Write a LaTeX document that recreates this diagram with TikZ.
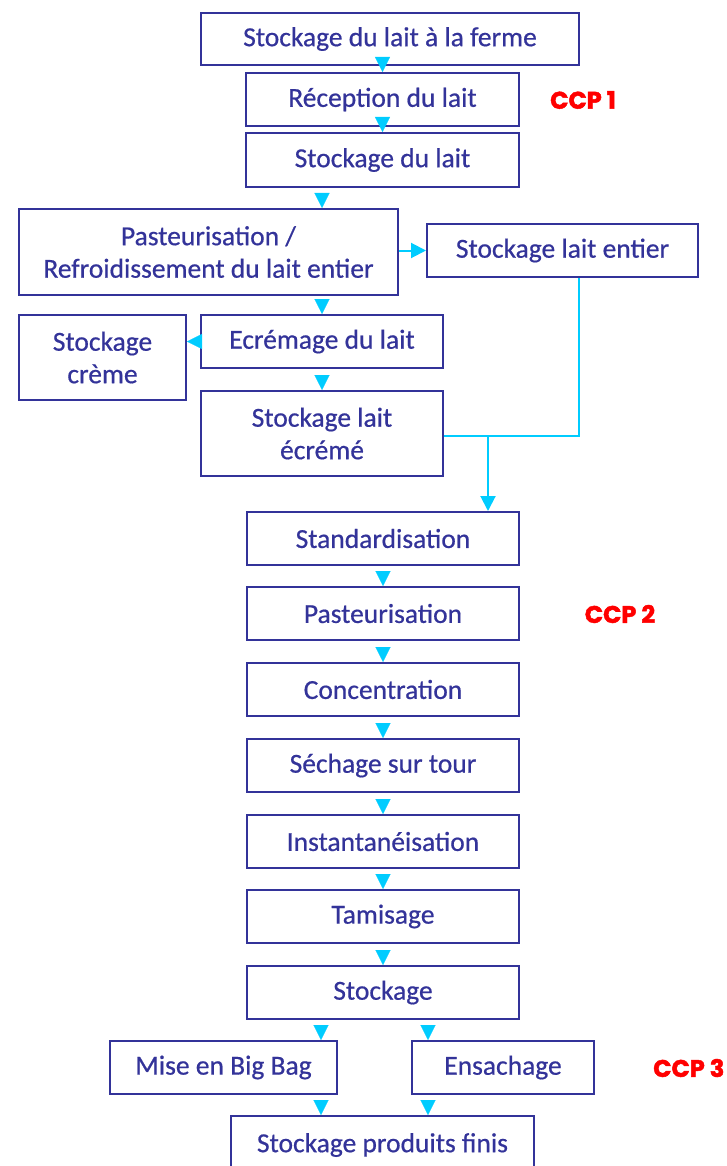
\documentclass[tikz,border=0pt]{standalone}
\usepackage{fontspec}
\setmainfont{Carlito}
\newfontfamily\boxfont{Carlito}[FakeBold=0.6]
\newfontfamily\ccpfont{Poppins}[BoldFeatures={FakeBold=2}]
\usetikzlibrary{arrows.meta}
\definecolor{bluec}{RGB}{51,51,153}
\definecolor{cyanc}{RGB}{0,204,255}
\definecolor{redc}{RGB}{255,0,0}
\begin{document}
\begin{tikzpicture}[x=1pt,y=-1pt,
  box/.style={draw=bluec, line width=2pt, text=bluec, font=\boxfont\fontsize{27.5}{32.5}\selectfont,
    align=center, inner sep=0pt, rectangle},
  arr/.style={draw=cyanc, line width=2pt, -{Triangle[length=15pt,width=15pt]}},
  tiponly/.style={draw=white, line width=0.1pt, -{Triangle[length=15pt,width=15pt,color=cyanc]}},
  link/.style={draw=cyanc, line width=2pt},
  ccp/.style={text=redc, font=\ccpfont\bfseries\fontsize{24}{26}\selectfont, inner sep=0pt}]
\useasboundingbox (0,0) rectangle (727,1166);
\clip (0,0) rectangle (727,1166);
% nodes
\node[box, minimum width=378pt, minimum height=52pt] (n1) at (390,39) {Stockage du lait à la ferme};
\node[box, minimum width=273pt, minimum height=53pt] (n2) at (382.5,99.5) {Réception du lait};
\node[box, minimum width=273pt, minimum height=54pt] (n3) at (382.5,160) {Stockage du lait};
\node[box, minimum width=379pt, minimum height=86pt] (n4) at (208.5,252) {Pasteurisation /\\Refroidissement du lait entier};
\node[box, minimum width=271pt, minimum height=53pt] (n4e) at (562.5,250.5) {Stockage lait entier};
\node[box, minimum width=167pt, minimum height=85pt] (ncr) at (102.5,357.5) {Stockage\\crème};
\node[box, minimum width=242pt, minimum height=53pt] (n5) at (322,341.5) {Ecrémage du lait};
\node[box, minimum width=242pt, minimum height=85pt] (n7) at (322,433.5) {Stockage lait\\écrémé};
\node[box, minimum width=272pt, minimum height=53pt] (n8) at (383,538.5) {Standardisation};
\node[box, minimum width=272pt, minimum height=53pt] (n9) at (383,613.5) {Pasteurisation};
\node[box, minimum width=272pt, minimum height=53pt] (n10) at (383,689.5) {Concentration};
\node[box, minimum width=272pt, minimum height=53pt] (n11) at (383,765.5) {Séchage sur tour};
\node[box, minimum width=272pt, minimum height=53pt] (n12) at (383,841.5) {Instantanéisation};
\node[box, minimum width=272pt, minimum height=53pt] (n13) at (383,916.5) {Tamisage};
\node[box, minimum width=272pt, minimum height=53pt] (n14) at (383,992.5) {Stockage};
\node[box, minimum width=227pt, minimum height=53pt] (n15) at (223.5,1067.5) {Mise en Big Bag};
\node[box, minimum width=182pt, minimum height=53pt] (n16) at (503,1067.5) {Ensachage};
\node[box, minimum width=303pt, minimum height=58pt] (n17) at (382.5,1145) {Stockage produits finis};
% CCP labels
\node[ccp] (c1) at (583,100) {CCP 1};
\node[ccp] (c2) at (620,614) {CCP 2};
\node[ccp, anchor=west] (c3) at (653,1068) {CCP 3};
% helper coordinates
\coordinate (xa) at (321,1030);
\coordinate (xb) at (428,1030);
\coordinate (j1) at (579,435.5);
\coordinate (j2) at (488,435.5);
% connectors
\draw[tiponly] (n1.south -| n2.north) -- (n2.north);
\draw[tiponly] (n2.south) -- (n3.north);
\draw[tiponly] (n3.south -| n5.north) -- (n4.north -| n5.north);
\draw[arr] (n4.east |- n4e.west) -- (n4e.west);
\draw[tiponly] (n4.south -| n5.north) -- (n5.north);
\draw[tiponly] (n5.west) -- (n5.west -| ncr.east);
\draw[tiponly] (n5.south) -- (n7.north);
\draw[link] (n4e.south -| j1) -- (j1) -- (n7.east |- j1);
\draw[arr] (j2) -- (n8.north -| j2);
\draw[tiponly] (n8.south) -- (n9.north);
\draw[tiponly] (n9.south) -- (n10.north);
\draw[tiponly] (n10.south) -- (n11.north);
\draw[tiponly] (n11.south) -- (n12.north);
\draw[tiponly] (n12.south) -- (n13.north);
\draw[tiponly] (n13.south) -- (n14.north);
\draw[tiponly] (n14.south -| xa) -- (n15.north -| xa);
\draw[tiponly] (n14.south -| xb) -- (n16.north -| xb);
\draw[tiponly] (n15.south -| xa) -- (n17.north -| xa);
\draw[tiponly] (n16.south -| xb) -- (n17.north -| xb);
\end{tikzpicture}
\end{document}
